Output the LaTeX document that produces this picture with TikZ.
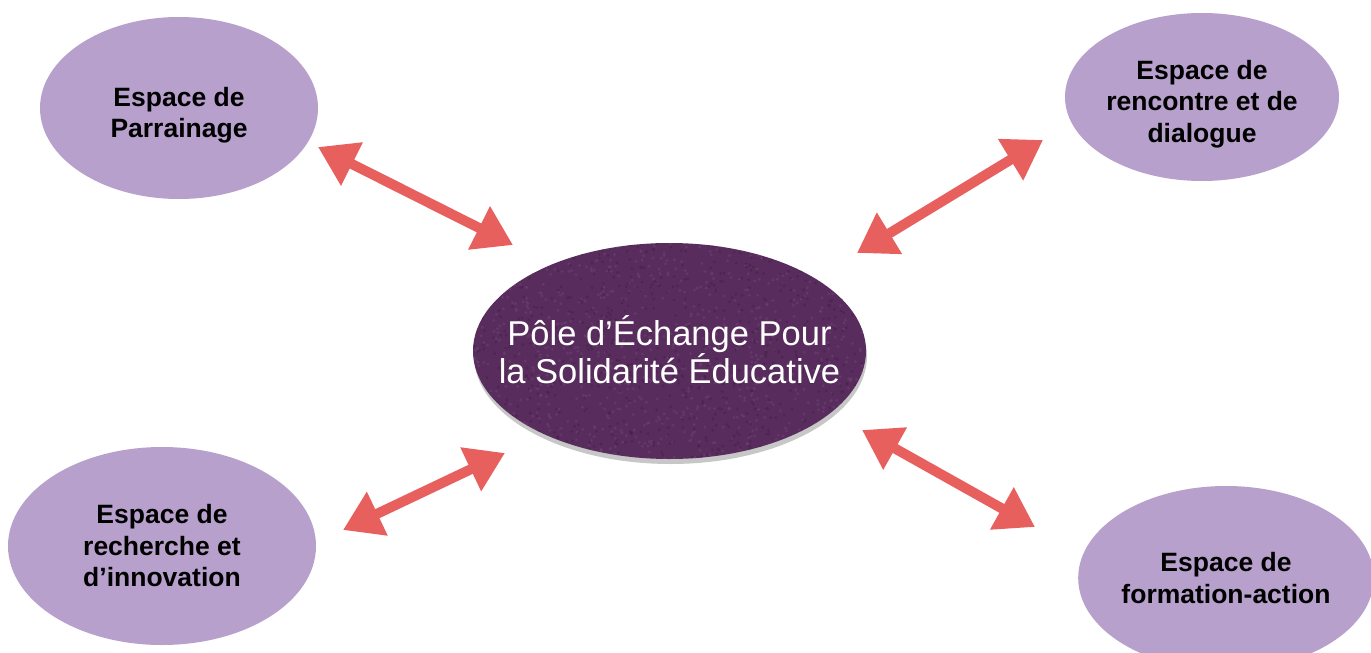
\documentclass[tikz,border=0pt]{standalone}
\usepackage{fontspec}
\setmainfont{Liberation Sans}
\usetikzlibrary{shapes.geometric,arrows.meta,shadows}
\definecolor{lilac}{HTML}{B8A0CC}
\definecolor{plum}{HTML}{582C5C}
\definecolor{plumlight}{HTML}{6E4272}
\definecolor{plumdark}{HTML}{47204B}
\definecolor{arrowred}{HTML}{E8605E}
\tikzset{
  espace/.style={ellipse, fill=lilac, inner sep=0pt, outer sep=0pt, align=center,
    font=\fontsize{26.5}{31.5}\selectfont\bfseries, text=black},
  espacetext/.style={inner sep=0pt, align=center,
    font=\fontsize{26.5}{31.5}\selectfont\bfseries, text=black},
  pole/.style={ellipse, fill=plum, inner sep=0pt, outer sep=0pt, align=center,
    font=\fontsize{34.5}{38}\selectfont, text=white,
    drop shadow={shadow xshift=1pt, shadow yshift=-5pt, fill=black!22, opacity=1}},
  link/.style={draw=arrowred, line width=10pt,
    {Triangle[length=38pt,width=46pt]}-{Triangle[length=38pt,width=46pt]}}
}
\begin{document}
\begin{tikzpicture}[x=1pt,y=-1pt]
\clip (0,0) rectangle (1371,653);
\fill[white] (0,0) rectangle (1371,653);

\node[espace, minimum width=278pt, minimum height=182pt] (parr) at (179,108) {};
\node[espacetext] (parrtext) at ([yshift=-7pt]parr.center) {Espace de\\Parrainage};
\node[espace, minimum width=274pt, minimum height=168pt] (renc) at (1202,97) {};
\node[espacetext] (renctext) at ([yshift=-7pt]renc.center) {Espace de\\rencontre et de\\dialogue};
\node[espace, minimum width=308pt, minimum height=198pt] (rech) at (162,546) {Espace de\\recherche et\\d’innovation};
\node[espace, minimum width=288pt, minimum height=184pt] (form) at (1226,578) {Espace de\\formation-action};

\node[pole, minimum width=393pt, minimum height=216pt] (pole) at (669.5,351) {};
\begin{scope}
  \clip (669.5,351) ellipse [x radius=196.5pt, y radius=108pt];
  \pgfmathsetseed{7}
  \foreach \i in {1,...,900} {
    \fill[plumlight, opacity=0.55] (473+393*rnd, 243+216*rnd) circle (1.6pt);
  }
  \foreach \i in {1,...,700} {
    \fill[plumdark, opacity=0.55] (473+393*rnd, 243+216*rnd) circle (1.5pt);
  }
\end{scope}
\node[align=center, font=\fontsize{34.5}{38}\selectfont, text=white] (poletext) at ([yshift=1pt]pole.center) {Pôle d’Échange Pour\\la Solidarité Éducative};

\coordinate (a1s) at (318,147);
\coordinate (a1e) at (513,245);
\coordinate (a2s) at (1043,140);
\coordinate (a2e) at (857,253);
\coordinate (a3s) at (505,453);
\coordinate (a3e) at (343,530);
\coordinate (a4s) at (862,430);
\coordinate (a4e) at (1035,527);

\draw[link] (a1s) -- (a1e);
\draw[link] (a2s) -- (a2e);
\draw[link] (a3s) -- (a3e);
\draw[link] (a4s) -- (a4e);
\end{tikzpicture}
\end{document}
